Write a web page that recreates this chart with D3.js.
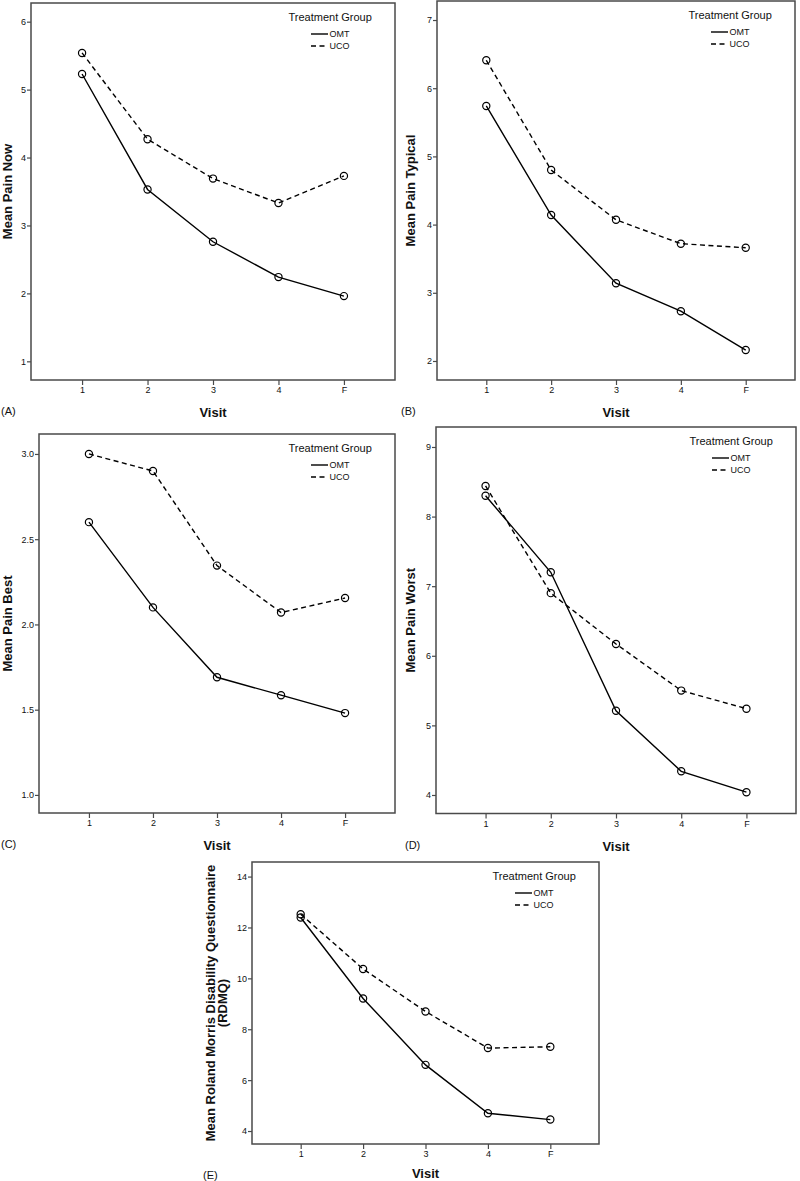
<!DOCTYPE html>
<html>
<head>
<meta charset="utf-8">
<script src="https://cdn.jsdelivr.net/npm/d3@7"></script>
<style>
  html, body { margin: 0; padding: 0; background: #fff; }
  svg { display: block; font-family: "Liberation Sans", Arial, sans-serif; }
</style>
</head>
<body>
<svg id="chart" width="800" height="1181"></svg>
<script>
// ---------- data ----------
const visits = ["1", "2", "3", "4", "F"];
const groups = ["OMT", "UCO"];

const painNowOMT = [5.23, 3.53, 2.76, 2.24, 1.96];
const painNowUCO = [5.54, 4.27, 3.69, 3.33, 3.73];

const painTypicalOMT = [5.74, 4.14, 3.14, 2.73, 2.16];
const painTypicalUCO = [6.41, 4.80, 4.07, 3.72, 3.66];

const painBestOMT = [2.60, 2.10, 1.69, 1.585, 1.48];
const painBestUCO = [3.00, 2.90, 2.345, 2.07, 2.155];

const painWorstOMT = [8.30, 7.20, 5.21, 4.34, 4.04];
const painWorstUCO = [8.44, 6.90, 6.17, 5.50, 5.24];

const rdmqOMT = [12.39, 9.21, 6.60, 4.70, 4.45];
const rdmqUCO = [12.52, 10.37, 8.70, 7.26, 7.31];

const ticksA = [1, 2, 3, 4, 5, 6];
const ticksB = [2, 3, 4, 5, 6, 7];
const ticksC = [1.0, 1.5, 2.0, 2.5, 3.0];
const ticksD = [4, 5, 6, 7, 8, 9];
const ticksE = [4, 6, 8, 10, 12, 14];

const titles = ["Mean Pain Now", "Mean Pain Typical", "Mean Pain Best", "Mean Pain Worst",
                ["Mean Roland Morris Disability Questionnaire", "(RDMQ)"]];
const panelLabels = ["(A)", "(B)", "(C)", "(D)", "(E)"];
const xTitle = "Visit";
const legendTitle = "Treatment Group";

// ---------- layout ----------
const panels = [
  { omt: painNowOMT, uco: painNowUCO, ticks: ticksA, fmt: d3.format("d"),
    box: [31, 3, 395, 380], dom: [0.725, 6.275], pad: 0.78, yTitleX: 7, lab: 1, xtY: 37 },
  { omt: painTypicalOMT, uco: painTypicalUCO, ticks: ticksB, fmt: d3.format("d"),
    box: [437, 1, 795, 380], dom: [1.721, 7.279], pad: 0.76, yTitleX: 410, lab: 401, xtY: 37 },
  { omt: painBestOMT, uco: painBestUCO, ticks: ticksC, fmt: d3.format(".1f"),
    box: [39, 434, 395, 813], dom: [0.894, 3.117], pad: 0.78, yTitleX: 7, lab: 1, xtY: 37 },
  { omt: painWorstOMT, uco: painWorstUCO, ticks: ticksD, fmt: d3.format("d"),
    box: [436, 427, 796, 813.5], dom: [3.734, 9.287], pad: 0.76, yTitleX: 410, lab: 405, xtY: 37 },
  { omt: rdmqOMT, uco: rdmqUCO, ticks: ticksE, fmt: d3.format("d"),
    box: [252, 862, 599, 1144], dom: [3.49, 14.573], pad: 0.78, yTitleX: 210, lab: 203, xtY: 33.5 }
];

const svg = d3.select("#chart");
const frameColor = "#4a4a4a";
const dash = "5,3.5";

panels.forEach((p, i) => {
  const [L, T, R, B] = p.box;
  const x = d3.scalePoint().domain(visits).range([L, R]).padding(p.pad);
  const y = d3.scaleLinear().domain(p.dom).range([B, T]);
  const g = svg.append("g");

  // axes
  const yAxis = d3.axisLeft(y).tickValues(p.ticks).tickFormat(p.fmt).tickSize(4).tickPadding(1);
  const gy = g.append("g").attr("transform", `translate(${L},0)`).call(yAxis);
  const xAxis = d3.axisBottom(x).tickSize(5).tickPadding(2);
  const gx = g.append("g").attr("transform", `translate(0,${B})`).call(xAxis);
  [gx, gy].forEach(a => {
    a.select(".domain").remove();
    a.selectAll("line").attr("stroke", frameColor).attr("stroke-width", 1.2);
    a.selectAll("text").attr("font-size", 9).attr("fill", "#111")
      .attr("font-family", "Liberation Sans, Arial, sans-serif");
  });

  // frame
  g.append("rect").attr("x", L).attr("y", T).attr("width", R - L).attr("height", B - T)
    .attr("fill", "none").attr("stroke", frameColor).attr("stroke-width", 1.5);

  // lines
  const line = d3.line().x((d, j) => x(visits[j])).y(d => y(d));
  const series = [{ v: p.omt, dash: null }, { v: p.uco, dash: dash }];
  series.forEach(s => {
    g.append("path").datum(s.v).attr("d", line).attr("fill", "none")
      .attr("stroke", "#000").attr("stroke-width", 1.4)
      .attr("stroke-dasharray", s.dash);
    g.selectAll(null).data(s.v).enter().append("circle")
      .attr("cx", (d, j) => x(visits[j])).attr("cy", d => y(d)).attr("r", 3.6)
      .attr("fill", "none").attr("stroke", "#000").attr("stroke-width", 1.2);
  });

  // legend
  const lg = g.append("g");
  lg.append("text").attr("x", R - 106.5).attr("y", T + 14).attr("dy", "0.35em")
    .attr("font-size", 11).attr("fill", "#111").text(legendTitle);
  groups.forEach((name, k) => {
    const yy = T + 31 + k * 12;
    lg.append("line").attr("x1", R - 84).attr("x2", R - 67).attr("y1", yy).attr("y2", yy)
      .attr("stroke", "#000").attr("stroke-width", 1.4)
      .attr("stroke-dasharray", k === 1 ? "5,3.5" : null);
    lg.append("text").attr("x", R - 65.5).attr("y", yy).attr("dy", "0.35em")
      .attr("font-size", 9).attr("fill", "#111").text(name);
  });

  // x title
  g.append("text").attr("x", (L + R) / 2).attr("y", B + p.xtY).attr("text-anchor", "middle")
    .attr("font-size", 13).attr("font-weight", "bold").attr("fill", "#111").text(xTitle);

  // panel label
  g.append("text").attr("x", p.lab).attr("y", B + 35).attr("font-size", 11)
    .attr("fill", "#111").text(panelLabels[i]);

  // y title
  const cy = (T + B) / 2;
  const t = titles[i];
  const lines = Array.isArray(t) ? t : [t];
  lines.forEach((txt, k) => {
    g.append("text")
      .attr("transform", `translate(${p.yTitleX + k * 12},${cy}) rotate(-90)`)
      .attr("text-anchor", "middle").attr("dy", "0.35em")
      .attr("font-size", 13).attr("font-weight", "bold").attr("fill", "#111").text(txt);
  });
});
</script>
</body>
</html>
